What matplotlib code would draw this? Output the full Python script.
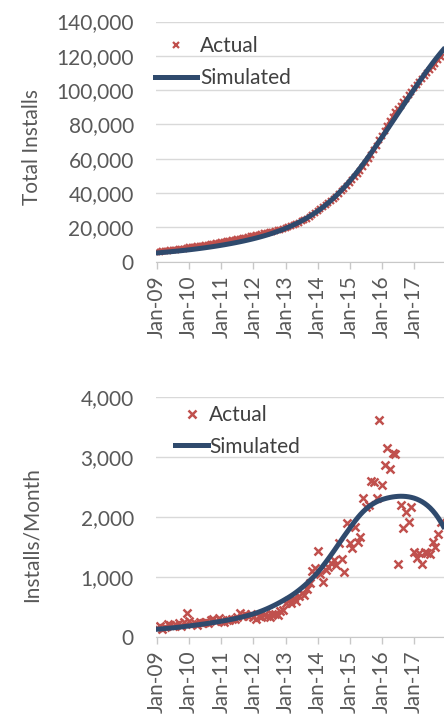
import numpy as np
import matplotlib
matplotlib.use("Agg")
import matplotlib.pyplot as plt
from matplotlib.ticker import FuncFormatter

# monthly installs, Jan-09 onward
actual_month = [
    150, 175, 130, 160, 210, 190, 170, 200, 230, 180, 250, 390,
    260, 210, 230, 200, 240, 220, 250, 230, 280, 290, 260, 310,
    260, 240, 280, 270, 300, 290, 330, 400, 350, 370, 340, 380,
    330, 300, 350, 320, 360, 340, 330, 370, 380, 360, 420, 450,
    560, 600, 560, 640, 600, 680, 720, 700, 800, 900, 1100, 1140,
    1430, 1050, 920, 1110, 1170, 1230, 1280, 1200, 1560, 1300, 1080, 1900,
    1556, 1473, 1833, 1583, 1667, 2306, 2156, 2195, 2600, 2580, 2306, 3612,
    2528, 2862, 3140, 2790, 3057, 3050, 1212, 2195, 1806, 2083, 1917, 2156,
    1420, 1310, 1390, 1220, 1420, 1400, 1380, 1580, 1500, 1720, 1920,
]
sim_month = [
    125, 128, 132, 136, 140, 144, 148, 153, 158, 163, 168, 174,
    180, 185, 191, 197, 203, 209, 215, 222, 229, 236, 243, 250,
    258, 266, 274, 282, 291, 300, 310, 320, 331, 343, 355, 367,
    380, 395, 411, 428, 446, 465, 485, 506, 528, 551, 575, 600,
    626, 652, 680, 710, 742, 776, 812, 850, 890, 932, 976, 1020,
    1070, 1125, 1182, 1240, 1300, 1362, 1425, 1490, 1555, 1620, 1684, 1746,
    1808, 1870, 1930, 1986, 2038, 2085, 2127, 2164, 2196, 2224, 2248, 2268,
    2285, 2299, 2311, 2321, 2329, 2335, 2339, 2341, 2340, 2337, 2331, 2322,
    2310, 2294, 2274, 2250, 2221, 2187, 2147, 2100, 2046, 1984, 1914, 1836,
]
# cumulative installs as reported, Jan-09 onward
actual_total = [
    5800, 5900, 6100, 6200, 6400, 6600, 6800, 7000, 7200, 7400, 7600, 8000,
    8300, 8500, 8700, 8900, 9200, 9400, 9600, 9900, 10200, 10400, 10700, 11000,
    11300, 11500, 11800, 12100, 12400, 12700, 13000, 13400, 13700, 14100, 14400, 14800,
    15200, 15500, 15800, 16100, 16500, 16800, 17200, 17500, 17900, 18300, 18700, 19100,
    19700, 20300, 20900, 21500, 22100, 22800, 23500, 24200, 25000, 25900, 27000, 28200,
    29600, 30700, 31700, 32900, 34100, 35400, 36700, 38000, 39600, 41000, 42300, 44300,
    46000, 47600, 49500, 51200, 53000, 55300, 57500, 59800, 62400, 65000, 67300, 70800,
    73300, 76100, 79100, 81800, 84600, 87300, 88800, 91000, 92900, 95000, 97000, 99200,
    101000, 102900, 104700, 106500, 108300, 110100, 111900, 113700, 115500, 117400, 119300,
]
sim_start = 5000

tick_labels = ["Jan-09", "Jan-10", "Jan-11", "Jan-12", "Jan-13",
               "Jan-14", "Jan-15", "Jan-16", "Jan-17"]

RED = "#C0504D"
BLUE = "#2F4A6D"
GRID = "#D9D9D9"
TXT = "#595959"

plt.rcParams["font.family"] = ["Lato", "DejaVu Sans"]
plt.rcParams["font.size"] = 15

x_act = np.arange(len(actual_month))
x_sim = np.arange(len(sim_month))
sim_total = sim_start + np.cumsum(sim_month)

fig = plt.figure(figsize=(4.44, 7.17), dpi=100)
ax1 = fig.add_axes([0.3514, 0.635, 0.6486, 0.335])
ax2 = fig.add_axes([0.3514, 0.112, 0.6486, 0.3347])

thousands = FuncFormatter(lambda v, p: f"{v:,.0f}")


def style(ax, ymax, ystep):
    ax.set_xlim(-0.4, 107.2)
    ax.set_ylim(0, ymax)
    ax.set_yticks(np.arange(0, ymax + 1, ystep))
    ax.yaxis.set_major_formatter(thousands)
    ax.set_xticks(np.arange(len(tick_labels)) * 12)
    ax.set_xticklabels(tick_labels, rotation=90)
    ax.grid(axis="y", color=GRID, linewidth=1)
    ax.set_axisbelow(True)
    for s in ["top", "right", "left"]:
        ax.spines[s].set_visible(False)
    ax.spines["bottom"].set_color("#C8C8C8")
    ax.tick_params(axis="y", length=0, pad=16, labelcolor=TXT, labelsize=15)
    ax.tick_params(axis="x", length=5, width=1, color="#C8C8C8", pad=5,
                   labelcolor=TXT, labelsize=15)


# cumulative installs
ax1.plot(np.arange(len(actual_total)), actual_total, linestyle="none",
         marker="x", ms=5, mew=1.6, color=RED, label="Actual")
ax1.plot(x_sim, sim_total, color=BLUE, linewidth=3.6, label="Simulated")
style(ax1, 140000, 20000)
ax1.set_ylabel("Total Installs", color=TXT, fontsize=15)
ax1.yaxis.set_label_coords(-0.396, 0.479)
ax1.legend(loc="upper left", bbox_to_anchor=(-0.003, 0.94), frameon=False,
           borderpad=0, borderaxespad=0, handlelength=2.0, handletextpad=0.15,
           labelspacing=0.6, numpoints=1, fontsize=15, labelcolor="#404040")

# monthly installs
ax2.plot(x_act, actual_month, linestyle="none", marker="x", ms=6, mew=1.8,
         color=RED, label="Actual")
ax2.plot(x_sim, sim_month, color=BLUE, linewidth=3.6, label="Simulated")
style(ax2, 4000, 1000)
ax2.set_ylabel("Installs/Month", color=TXT, fontsize=15)
ax2.yaxis.set_label_coords(-0.396, 0.424)
ax2.legend(loc="upper left", bbox_to_anchor=(0.066, 0.965), frameon=False,
           borderpad=0, borderaxespad=0, handlelength=1.6, handletextpad=0.05,
           labelspacing=0.55, numpoints=1, fontsize=15, labelcolor="#404040")

fig.savefig("out.png", dpi=100)
